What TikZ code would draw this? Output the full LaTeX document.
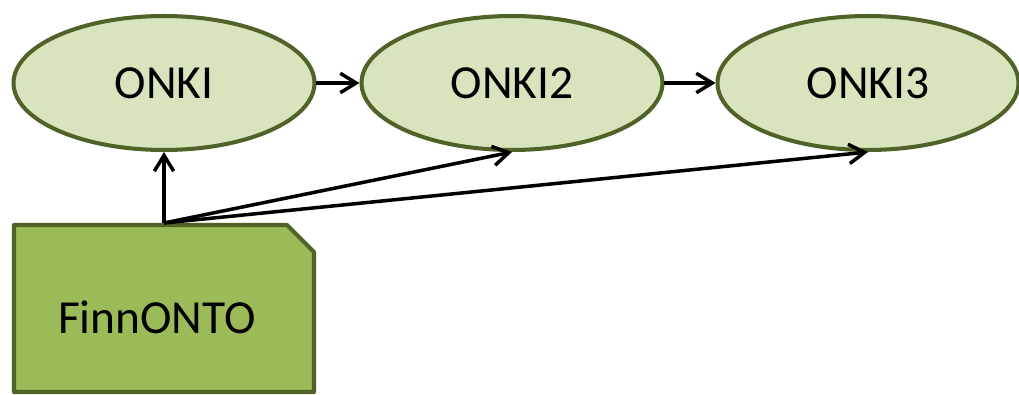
\documentclass[tikz,border=0pt]{standalone}
\usepackage{fontspec}
\setmainfont{Carlito}
\usetikzlibrary{shapes.geometric,arrows.meta}
\definecolor{olivedark}{HTML}{4F6228}
\definecolor{olivelight}{HTML}{D7E4BD}
\definecolor{olivemid}{HTML}{9BBB59}
\tikzset{
	onkinode/.style={ellipse,draw=olivedark,fill=olivelight,line width=2.3pt,
		inner sep=0pt,minimum width=6.02cm,minimum height=2.68cm,
		font=\fontsize{27}{32}\selectfont},
	conn/.style={line width=2pt,-{Straight Barb[length=9pt,width=11pt,line width=2pt]}}
}
\begin{document}
\begin{tikzpicture}[x=0.02cm,y=-0.02cm]
		\useasboundingbox (0,0) rectangle (1019,395);
		\node (onki) [onkinode] at (164,83) {ONKI};
		\node (onki2) [onkinode] at (512,83) {ONKI2};
		\node (onki3) [onkinode] at (868,83) {ONKI3};
		\draw [draw=olivedark,fill=olivemid,line width=2.3pt,line join=round]
			(14,225) -- (287,225) -- (314,252) -- (314,392) -- (14,392) -- cycle;
		\node (finnonto) at (157,317) {\fontsize{27}{32}\selectfont FinnONTO};
		\coordinate (src) at (164,223);
		\draw [conn] (onki) -- (onki2);
		\draw [conn] (onki2) -- (onki3);
		\draw [conn] (src) -- (onki.south);
		\draw [conn] (src) -- (onki2.south);
		\draw [conn] (src) -- (onki3.south);
	\end{tikzpicture}
\end{document}
